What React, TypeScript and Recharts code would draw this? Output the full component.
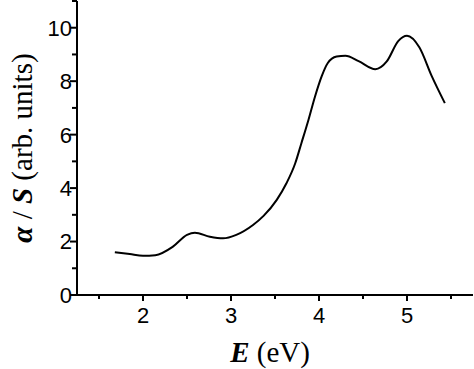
import { Label, Line, LineChart, XAxis, YAxis } from "recharts"

// photon energy (eV) and absorption over S
const energy = [
  1.68, 1.85, 2.0, 2.14, 2.34, 2.5, 2.59, 2.76, 2.91, 3.06, 3.25, 3.37, 3.52, 3.63,
  3.73, 3.8, 3.88, 3.955, 4.03, 4.1, 4.2, 4.3, 4.45, 4.64, 4.77, 4.9, 5.0, 5.14,
  5.28, 5.43,
]
const alphaOverS = [
  1.6, 1.53, 1.47, 1.49, 1.81, 2.25, 2.33, 2.18, 2.12, 2.25, 2.62, 2.96, 3.56, 4.18,
  4.93, 5.68, 6.55, 7.43, 8.18, 8.68, 8.92, 8.95, 8.75, 8.45, 8.74, 9.5, 9.7, 9.27,
  8.2, 7.18,
]

const xTicks = [1.5, 2, 2.5, 3, 3.5, 4, 4.5, 5, 5.5]
const yTicks = [0, 1, 2, 3, 4, 5, 6, 7, 8, 9, 10, 11]

const data = energy.map((e, i) => ({ e, v: alphaOverS[i] }))

const tickFont = "'Liberation Sans', Arial, sans-serif"
const labelFont = "'Liberation Serif', 'Times New Roman', serif"

function XTick({ x, y, payload }: any) {
  const major = Number.isInteger(payload.value)
  return (
    <g>
      <line x1={x} x2={x} y1={y} y2={y + (major ? 6 : 4)} stroke="#000" strokeWidth={2} />
      {major && (
        <text x={x} y={y + 28} textAnchor="middle" fontFamily={tickFont} fontSize={22} fill="#000">
          {payload.value}
        </text>
      )}
    </g>
  )
}

function YTick({ x, y, payload }: any) {
  const major = payload.value % 2 === 0 && payload.value <= 10
  return (
    <g>
      <line x1={x} x2={x - (major ? 7 : 5)} y1={y} y2={y} stroke="#000" strokeWidth={2} />
      {major && (
        <text x={x - 5} y={y} dy="0.36em" textAnchor="end" fontFamily={tickFont} fontSize={22} fill="#000">
          {payload.value}
        </text>
      )}
    </g>
  )
}

function YTitle({ viewBox }: any) {
  const cx = viewBox.x + 22
  const cy = viewBox.y + viewBox.height / 2
  return (
    <text
      x={cx}
      y={cy}
      transform={`rotate(-90 ${cx} ${cy})`}
      textAnchor="middle"
      dominantBaseline="central"
      fontFamily={labelFont}
      fontSize={29}
      fill="#000"
    >
      <tspan fontStyle="italic" fontWeight="bold">α</tspan>
      <tspan> / </tspan>
      <tspan fontStyle="italic" fontWeight="bold">S</tspan>
      <tspan> (arb. units)</tspan>
    </text>
  )
}

function XTitle({ viewBox }: any) {
  const cx = viewBox.x + viewBox.width / 2 - 5
  return (
    <text x={cx} y={viewBox.y + 67} textAnchor="middle" fontFamily={labelFont} fontSize={29} fill="#000">
      <tspan fontStyle="italic" fontWeight="bold">E</tspan>
      <tspan> (eV)</tspan>
    </text>
  )
}

export default function App() {
  return (
    <div style={{ position: "absolute", left: 0, top: 0, background: "#fff" }}>
      <LineChart width={474} height={369} data={data} margin={{ top: 1, right: 1, left: 0, bottom: 0 }}>
        <XAxis
          type="number"
          dataKey="e"
          domain={[1.25, 5.75]}
          ticks={xTicks}
          allowDataOverflow
          height={74}
          tickSize={0}
          tickMargin={0}
          tickLine={false}
          axisLine={{ stroke: "#000", strokeWidth: 2 }}
          tick={<XTick />}
          interval={0}
        >
          <Label content={<XTitle />} />
        </XAxis>
        <YAxis
          type="number"
          domain={[0, 11]}
          ticks={yTicks}
          allowDataOverflow
          width={77}
          tickSize={0}
          tickMargin={0}
          tickLine={false}
          axisLine={{ stroke: "#000", strokeWidth: 2 }}
          tick={<YTick />}
          interval={0}
        >
          <Label content={<YTitle />} />
        </YAxis>
        <Line
          type="monotone"
          dataKey="v"
          stroke="#000"
          strokeWidth={2}
          dot={false}
          isAnimationActive={false}
        />
      </LineChart>
    </div>
  )
}
